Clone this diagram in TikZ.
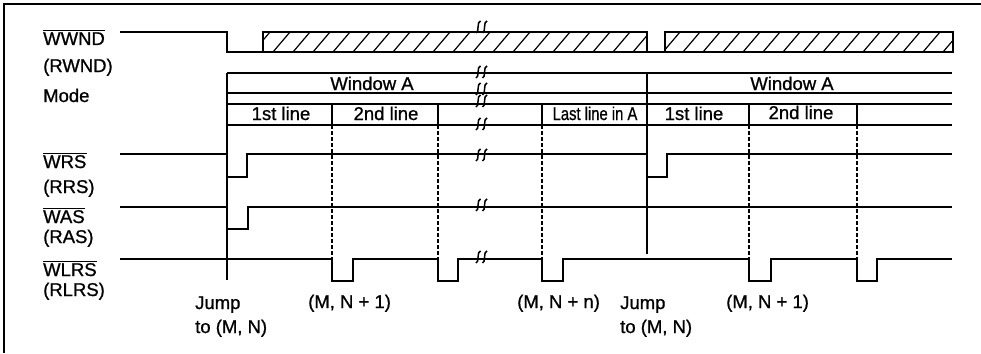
\documentclass[tikz,border=0pt]{standalone}
\usepackage{fontspec}
\usepackage{graphicx}
\setmainfont{Liberation Sans}[FakeBold=0.9]
\begin{document}
\begin{tikzpicture}[x=1pt,y=-1pt,
  sig/.style={line width=2pt, line join=miter},
  divl/.style={line width=1.7pt},
  hatchl/.style={line width=1.2pt},
  dsh/.style={line width=1.3pt, dash pattern=on 3.5pt off 2.5pt},
  ovl/.style={line width=1.2pt},
  lbl/.style={font=\fontsize{18.5}{21}\selectfont, inner sep=0pt, anchor=base west},
  txt/.style={font=\fontsize{18.5}{21}\selectfont, inner sep=0pt, anchor=base},
  brkm/.pic={
    \draw[line width=1.5pt] (-6,6) .. controls (-2.5,6) and (-5.5,-6) .. (-1.5,-6);
    \draw[line width=1.5pt] (0.5,6) .. controls (4,6) and (1,-6) .. (5,-6);
  }]
\useasboundingbox (0,0) rectangle (981,353);
% frame
\draw[line width=1.3pt] (4,353) -- (4,4) -- (981,4);

% ---- WWND / RWND
\draw[sig] (120,32) -- (227,32) -- (227,52) -- (953,52);
\begin{scope}
  \clip (263,32) rectangle (647,52);
  \foreach \x in {253,273,...,673} \draw[hatchl] (\x,52) -- (\x+17,32);
\end{scope}
\begin{scope}
  \clip (665,32) rectangle (953,52);
  \foreach \x in {663,683,...,963} \draw[hatchl] (\x,52) -- (\x+17,32);
\end{scope}
\draw[sig] (263,32) rectangle (647,52);
\draw[sig] (665,32) rectangle (953,52);

% ---- Mode rows
\draw[sig] (227,73) -- (952,73);
\draw[sig] (227,93) -- (952,93);
\draw[sig] (227,104) -- (952,104);
\draw[sig] (227,125) -- (952,125);
\draw[sig] (227,73) -- (227,280);
\draw[sig] (647,73) -- (647,254);
\foreach \x in {332,438,542,749,857} \draw[divl] (\x,104) -- (\x,125);

% dashed markers
\foreach \x in {332,438,542,749,857} \draw[dsh] (\x,125) -- (\x,259);

% ---- WRS
\draw[sig] (120,154) -- (227,154) -- (227,177) -- (247,177) -- (247,154) -- (647,154)
  -- (647,177) -- (667,177) -- (667,154) -- (952,154);
% ---- WAS
\draw[sig] (120,207) -- (227,207) -- (227,229) -- (248,229) -- (248,207) -- (952,207);
% ---- WLRS
\draw[sig] (120,259) -- (332,259) -- (332,281) -- (353,281) -- (353,259)
  -- (438,259) -- (438,281) -- (458,281) -- (458,259)
  -- (542,259) -- (542,281) -- (563,281) -- (563,259)
  -- (749,259) -- (749,281) -- (771,281) -- (771,259)
  -- (857,259) -- (857,281) -- (877,281) -- (877,259) -- (952,259);

% break marks
\foreach \y in {27,72,89,101,124,155,205,257} \pic at (482,\y) {brkm};

% ---- labels
\node[lbl] (l1) at (43,45) {WWND};
\node[lbl] (l2) at (43,72) {(RWND)};
\node[lbl] (l3) at (43,102) {Mode};
\node[lbl] (l4) at (43,168) {WRS};
\node[lbl] (l5) at (43,193) {(RRS)};
\node[lbl] (l6) at (43,223) {WAS};
\node[lbl] (l7) at (43,243) {(RAS)};
\node[lbl] (l8) at (43,276) {WLRS};
\node[lbl] (l9) at (43,296) {(RLRS)};
\foreach \n in {l1,l4,l6,l8}
  \draw[ovl] ([yshift=1.6pt]\n.north west) -- ([yshift=1.6pt]\n.north east);

\node[txt] (wa1) at (372,90) {Window A};
\node[txt] (wa2) at (792,90) {Window A};
\node[txt] (r1) at (281,120) {1st line};
\node[txt] (r2) at (386,120) {2nd line};
\node[txt] (r3) at (595,120) {\scalebox{0.8}[1]{Last line in A}};
\node[txt] (r4) at (694,120) {1st line};
\node[txt] (r5) at (801,119) {2nd line};

\node[lbl] (b1) at (195,309) {Jump};
\node[lbl] (b2) at (195,333) {to (M, N)};
\node[lbl] (b3) at (308,308) {(M, N + 1)};
\node[lbl] (b4) at (517,308) {(M, N + n)};
\node[lbl] (b5) at (620,309) {Jump};
\node[lbl] (b6) at (620,333) {to (M, N)};
\node[lbl] (b7) at (726,308) {(M, N + 1)};
\end{tikzpicture}
\end{document}
